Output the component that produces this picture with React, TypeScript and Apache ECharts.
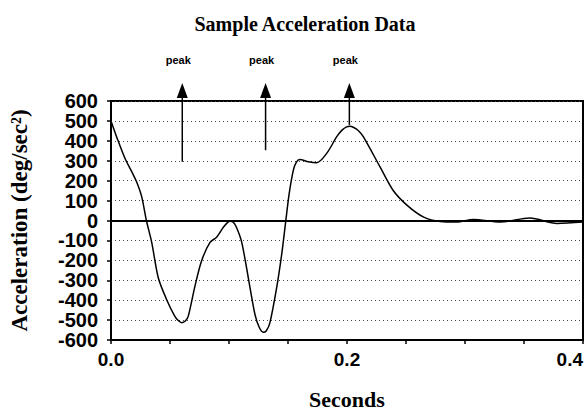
import React, { useEffect, useRef } from "react";
import * as echarts from "echarts";

const times = [0, 0.006, 0.012, 0.018, 0.022, 0.026, 0.030, 0.0345, 0.040, 0.047, 0.054, 0.057, 0.060, 0.063, 0.0655, 0.0712, 0.0768, 0.0839, 0.0895, 0.0952, 0.0985, 0.1008, 0.103, 0.106, 0.1108, 0.1178, 0.122, 0.1255, 0.129, 0.1315, 0.1347, 0.1404, 0.1447, 0.148, 0.151, 0.1545, 0.157, 0.160, 0.1672, 0.1743, 0.1828, 0.1913, 0.196, 0.1997, 0.2025, 0.2053, 0.2095, 0.2138, 0.228, 0.239, 0.251, 0.265, 0.279, 0.293, 0.307, 0.330, 0.355, 0.378, 0.400];
const accel = [500, 400, 310, 240, 190, 120, 0, -110, -286, -395, -480, -502, -513, -505, -480, -328, -202, -110, -84, -34, -12, -4, -6, -30, -110, -337, -471, -535, -561, -555, -513, -337, -168, -8, 135, 252, 292, 306, 295, 290, 337, 421, 455, 470, 473, 468, 452, 421, 269, 152, 76, 17, -5, -8, 5, -8, 12, -15, -8];

const peakTimes = [0.0604, 0.131, 0.202];
const peakBases = [295, 353, 480];
const peakTip = 690;
const peakLabel = "peak";

const xTickLabels = ["0.0", "0.2", "0.4"];

export default function App() {
  const ref = useRef<HTMLDivElement>(null);
  useEffect(() => {
    if (!ref.current) return;
    const chart = echarts.init(ref.current, null, { renderer: "svg" });
    const serif = "Liberation Serif";
    const sans = "Liberation Sans";
    chart.setOption({
      animation: false,
      backgroundColor: "#ffffff",
      title: {
        text: "Sample Acceleration Data",
        left: 300,
        top: 9,
        textAlign: "center",
        textStyle: { fontFamily: serif, fontWeight: "bold", fontSize: 20, color: "#000" },
      },
      grid: {
        left: 111,
        right: 1,
        top: 101,
        bottom: 71,
        show: true,
        borderColor: "#000",
        borderWidth: 2,
        backgroundColor: "transparent",
        containLabel: false,
        outerBoundsMode: "none",
      },
      xAxis: {
        type: "value",
        min: 0,
        max: 0.4,
        interval: 0.05,
        name: "Seconds",
        nameLocation: "middle",
        nameGap: 49,
        nameTextStyle: { fontFamily: serif, fontWeight: "bold", fontSize: 22, lineHeight: 20, color: "#000" },
        axisLine: { onZero: false, lineStyle: { color: "#000", width: 2 } },
        axisTick: { show: true, length: 4, lineStyle: { color: "#000", width: 1.5 } },
        splitLine: { show: false },
        axisLabel: {
          margin: 10,
          fontFamily: sans,
          fontWeight: "bold",
          fontSize: 19,
          color: "#000",
          showMinLabel: true,
          showMaxLabel: true,
          hideOverlap: false,
          alignMaxLabel: "right",
          formatter: (v: number) => {
            const i = Math.round(v / 0.2);
            return Math.abs(v - i * 0.2) < 1e-6 ? xTickLabels[i] : "";
          },
        },
      },
      yAxis: {
        type: "value",
        min: -600,
        max: 600,
        interval: 100,
        name: "Acceleration (deg/sec²)",
        nameLocation: "middle",
        nameGap: 80,
        nameTextStyle: { fontFamily: serif, fontWeight: "bold", fontSize: 23, color: "#000" },
        axisLine: { show: true, lineStyle: { color: "#000", width: 2 } },
        axisTick: { show: true, length: 4, lineStyle: { color: "#000", width: 1.5 } },
        splitLine: { show: true, lineStyle: { color: "#444", width: 1, type: [1, 3] } },
        axisLabel: {
          margin: 13,
          fontFamily: sans,
          fontWeight: "bold",
          fontSize: 20,
          lineHeight: 16,
          color: "#000",
          showMinLabel: true,
          showMaxLabel: true,
          hideOverlap: false,
        },
      },
      series: [
        {
          type: "line",
          data: times.map((t, i) => [t, accel[i]]),
          smooth: 0.3,
          symbol: "none",
          lineStyle: { color: "#000", width: 1.5 },
          markLine: {
            silent: true,
            symbol: "none",
            label: { show: false },
            lineStyle: { color: "#000", width: 2, type: "solid" },
            data: [{ yAxis: 0 }],
          },
        },
      ],
    });

    const graphics: any[] = [];
    peakTimes.forEach((t, i) => {
      const base = chart.convertToPixel({ gridIndex: 0 }, [t, peakBases[i]]) as number[];
      const tip = chart.convertToPixel({ gridIndex: 0 }, [t, peakTip]) as number[];
      const headH = 15;
      const headW = 5.5;
      graphics.push({
        type: "line",
        shape: { x1: base[0], y1: base[1], x2: tip[0], y2: tip[1] + headH },
        style: { stroke: "#000", lineWidth: 1.5 },
        z: 10,
      });
      graphics.push({
        type: "polygon",
        shape: {
          points: [
            [tip[0], tip[1]],
            [tip[0] - headW, tip[1] + headH],
            [tip[0] + headW, tip[1] + headH],
          ],
        },
        style: { fill: "#000" },
        z: 10,
      });
      graphics.push({
        type: "text",
        x: tip[0] - 4,
        y: tip[1] - 23,
        style: {
          text: peakLabel,
          fontFamily: sans,
          fontWeight: "bold",
          fontSize: 11,
          fill: "#000",
          align: "center",
          verticalAlign: "middle",
        },
        z: 10,
      });
    });
    chart.setOption({ graphic: graphics });

    return () => chart.dispose();
  }, []);
  return (
    <div
      ref={ref}
      style={{ position: "fixed", left: 0, top: 0, width: 584, height: 411 }}
    />
  );
}
